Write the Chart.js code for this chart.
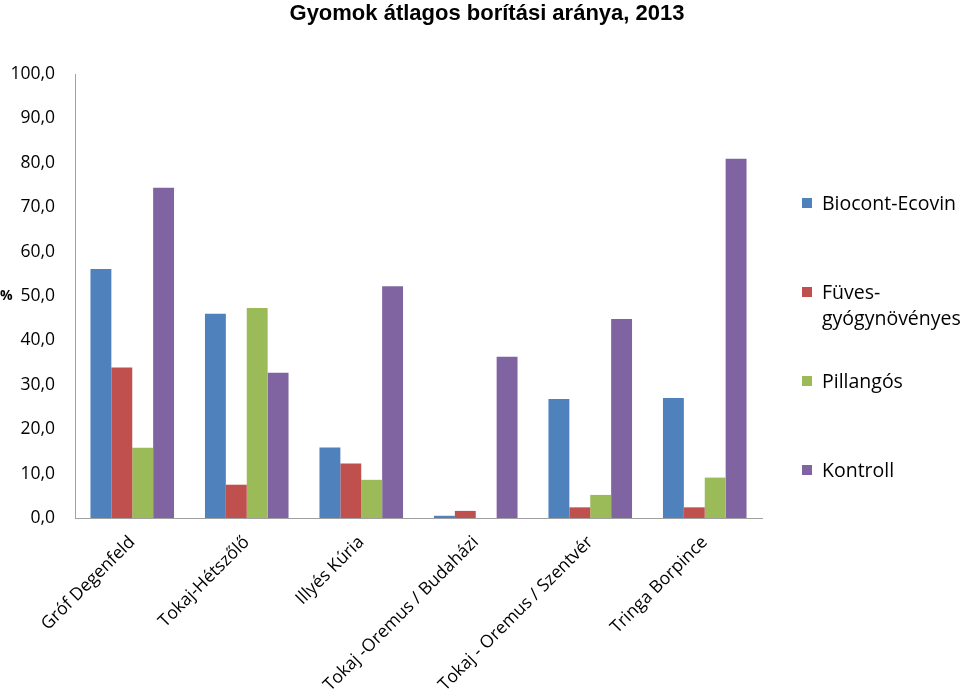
<!DOCTYPE html>
<html>
<head>
<meta charset="utf-8">
<script src="https://cdn.jsdelivr.net/npm/chart.js@4/dist/chart.umd.min.js"></script>
<style>
  html, body { margin: 0; padding: 0; background: #fff; }
  #wrap { position: relative; width: 960px; height: 689px; overflow: hidden; }
  #title { position: absolute; left: 0; width: 974px; top: 0; text-align: center; font-family: "Liberation Sans", Arial, sans-serif; font-weight: bold; font-size: 22px; line-height: 26px; color: #000; }
  #legend { position: absolute; left: 802px; top: 0; width: 158px; font-family: "Open Sans", sans-serif; font-size: 19.5px; color: #000; }
  .item { position: absolute; left: 0; width: 158px; display: flex; align-items: flex-start; line-height: 26px; }
  .box { width: 10px; height: 10px; margin-top: 8px; margin-right: 10px; flex: none; }
  .txt { width: 145px; }
</style>
</head>
<body>
<div id="wrap">
  <canvas id="weedChart" width="960" height="689"></canvas>
  <div id="title">Gyomok átlagos borítási aránya, 2013</div>
  <div id="legend"></div>
</div>
<script>
// Data
const categories = [
    "Gróf Degenfeld",
    "Tokaj-Hétszőlő",
    "Illyés Kúria",
    "Tokaj -Oremus / Budaházi",
    "Tokaj - Oremus / Szentvér",
    "Tringa Borpince",
];
const seriesNames = ["Biocont-Ecovin", "Füves-gyógynövényes", "Pillangós", "Kontroll"];
const biocont = [56.1, 46.0, 15.9, 0.5, 26.8, 27.0];
const fuves = [33.9, 7.5, 12.3, 1.6, 2.4, 2.4];
const pillangos = [15.8, 47.3, 8.6, 0.0, 5.2, 9.1];
const kontroll = [74.4, 32.7, 52.2, 36.3, 44.8, 80.9];
const colors = ["#4F81BD", "#C0504D", "#9BBB59", "#8064A2"];

const tickFont = { family: "Open Sans", size: 17.5 };

// "%" label beside the 50 tick
const percentLabel = {
    id: "percentLabel",
    afterDraw(chart) {
        const ctx = chart.ctx;
        const y = chart.scales.y.getPixelForValue(50);
        ctx.save();
        ctx.font = "bold 14px 'Open Sans'";
        ctx.fillStyle = "#000";
        ctx.textBaseline = "middle";
        ctx.textAlign = "left";
        ctx.fillText("%", 0, y);
        ctx.restore();
    },
};

const weedCanvas = document.getElementById("weedChart").getContext("2d");
const weedChart = new Chart(weedCanvas, {
    type: "bar",
    data: {
        labels: categories,
        datasets: [biocont, fuves, pillangos, kontroll].map((values, i) => ({
            label: seriesNames[i],
            data: values,
            backgroundColor: colors[i],
            borderWidth: 0,
            categoryPercentage: 0.73,
            barPercentage: 1.0,
        })),
    },
    options: {
        responsive: false,
        animation: false,
        layout: {
            padding: { left: 0, right: 198, top: 74, bottom: 0 },
        },
        plugins: {
            legend: { display: false },
            tooltip: { enabled: false },
            title: { display: false },
        },
        scales: {
            x: {
                grid: { display: false },
                border: { display: true, color: "#A0A0A0", width: 1 },
                ticks: {
                    color: "#000",
                    font: tickFont,
                    minRotation: 45,
                    maxRotation: 45,
                    autoSkip: false,
                    padding: 6,
                },
                afterFit(scale) {
                    scale.height = 171;
                },
            },
            y: {
                min: 0,
                max: 100,
                grid: { display: false },
                border: { display: true, color: "#A0A0A0", width: 1 },
                ticks: {
                    stepSize: 10,
                    color: "#000",
                    font: tickFont,
                    padding: 12,
                    callback: (v) => v.toFixed(1).replace(".", ","),
                },
                afterFit(scale) {
                    scale.width = 75;
                },
            },
        },
    },
    plugins: [percentLabel],
});

// Legend
const legend = document.getElementById("legend");
seriesNames.forEach((name, i) => {
    const item = document.createElement("div");
    item.className = "item";
    item.style.top = (190 + i * 89) + "px";
    item.innerHTML = '<span class="box" style="background:' + colors[i] + '"></span><span class="txt">' + name + "</span>";
    legend.appendChild(item);
});
</script>
</body>
</html>
